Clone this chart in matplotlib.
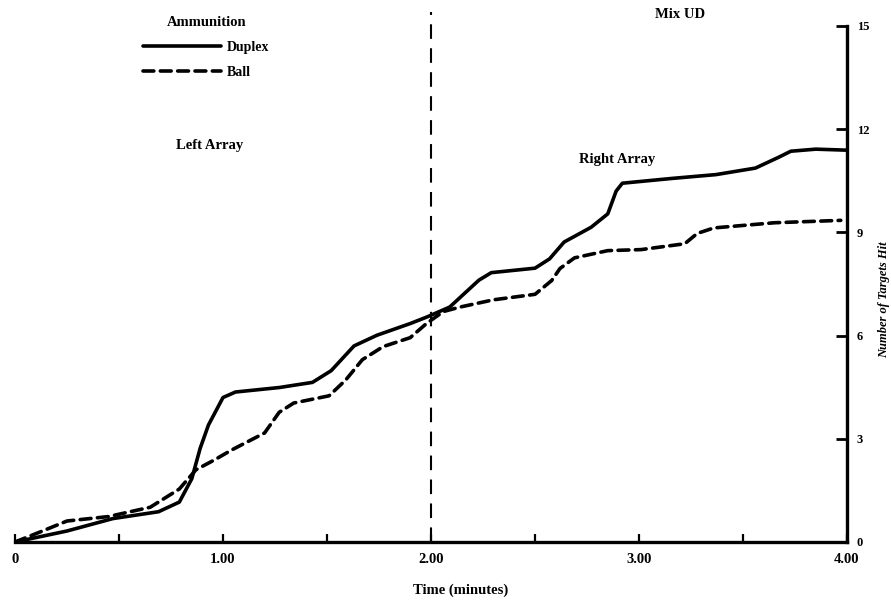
import numpy as np
import matplotlib.pyplot as plt

# values (time in minutes, targets hit)
duplex_t = [0, 0.25, 0.47, 0.69, 0.79, 0.85, 0.89, 0.93, 1.00, 1.06, 1.27, 1.43,
            1.52, 1.63, 1.74, 1.90, 1.98, 2.09, 2.23, 2.29, 2.50, 2.57, 2.64, 2.77,
            2.85, 2.89, 2.92, 3.16, 3.37, 3.56, 3.67, 3.73, 3.85, 4.00]
duplex_n = [0, 0.32, 0.68, 0.88, 1.16, 1.84, 2.72, 3.40, 4.20, 4.36, 4.49, 4.64,
            4.98, 5.70, 6.01, 6.35, 6.54, 6.83, 7.61, 7.83, 7.96, 8.23, 8.72, 9.15,
            9.54, 10.20, 10.43, 10.57, 10.68, 10.87, 11.18, 11.36, 11.42, 11.39]

ball_t = [0, 0.12, 0.25, 0.45, 0.65, 0.79, 0.87, 0.96, 1.04, 1.12, 1.20, 1.27,
          1.34, 1.51, 1.59, 1.67, 1.77, 1.90, 1.98, 2.06, 2.14, 2.30, 2.50, 2.58,
          2.62, 2.69, 2.85, 3.01, 3.22, 3.28, 3.36, 3.65, 3.97]
ball_n = [0, 0.29, 0.61, 0.74, 1.01, 1.54, 2.10, 2.39, 2.67, 2.92, 3.17, 3.77,
          4.04, 4.25, 4.71, 5.30, 5.68, 5.94, 6.36, 6.70, 6.83, 7.04, 7.20, 7.60,
          7.95, 8.26, 8.47, 8.50, 8.67, 8.97, 9.13, 9.28, 9.35]

divider_t = [2.0, 2.0]
divider_n = [0, 15.4]

xticks = [0, 1, 2, 3, 4]
xtick_labels = ['0', '1.00', '2.00', '3.00', '4.00']
yticks = [0, 3, 6, 9, 12, 15]

font = ['Liberation Serif', 'DejaVu Serif']
plt.rcParams['font.family'] = font
plt.rcParams['font.weight'] = 'bold'

W, H = 891, 601
fig = plt.figure(figsize=(W / 100, H / 100), dpi=100)
# axes placed in pixel terms: x from 15 to 847, y=0 at 542, 34.4 px per target
ax = fig.add_axes([15 / W, (H - 542) / H, 832 / W, 15.6 * 34.4 / H])

ax.plot(duplex_t, duplex_n, color='black', lw=2.6, solid_joinstyle='round',
        solid_capstyle='round', label='Duplex')
ax.plot(ball_t, ball_n, color='black', lw=2.6, linestyle=(0, (3.0, 1.8)),
        dash_capstyle='round', label='Ball')
ax.plot(divider_t, divider_n, color='black', lw=1.5, linestyle=(0, (7, 4.5)))

ax.set_xlim(0, 4)
ax.set_ylim(0, 15.6)

for s in ['left', 'top']:
    ax.spines[s].set_visible(False)
ax.spines['bottom'].set_linewidth(2.4)
ax.spines['right'].set_linewidth(2.4)
ax.spines['right'].set_bounds(0, 15)

ax.set_xticks(xticks)
ax.set_xticklabels(xtick_labels)
ax.set_xticks(np.arange(0.5, 4, 1.0), minor=True)
ax.tick_params(axis='x', which='both', direction='in', length=6, width=1.6,
               pad=8, labelsize=10.5)
ax.yaxis.tick_right()
ax.set_yticks(yticks)
ax.tick_params(axis='y', direction='in', length=8, width=2.0, pad=7, labelsize=9)

ax.set_xlabel('Time (minutes)', fontsize=10.5, fontweight='bold')
ax.xaxis.set_label_coords(0.536, -0.078)

fig.text(884 / W, 1 - 300 / H, 'Number of Targets Hit', rotation=90,
         fontsize=9, fontstyle='italic', ha='center', va='center')

leg = ax.legend(title='Ammunition', loc='upper left',
                bbox_to_anchor=(143 / W, 1 - 16 / H), bbox_transform=fig.transFigure,
                frameon=False, handlelength=5.6, handletextpad=0.45,
                borderpad=0, borderaxespad=0, labelspacing=0.85,
                prop={'size': 10, 'weight': 'bold'})
leg.get_title().set_fontsize(10.5)
leg.get_title().set_fontweight('bold')

fig.text(680 / W, 1 - 14 / H, 'Mix UD', fontsize=10.5, ha='center', va='center')
fig.text(210 / W, 1 - 145 / H, 'Left Array', fontsize=10.5, ha='center', va='center')
fig.text(617 / W, 1 - 160 / H, 'Right Array', fontsize=10.5, ha='center', va='center')

fig.savefig('out.png', dpi=100)
